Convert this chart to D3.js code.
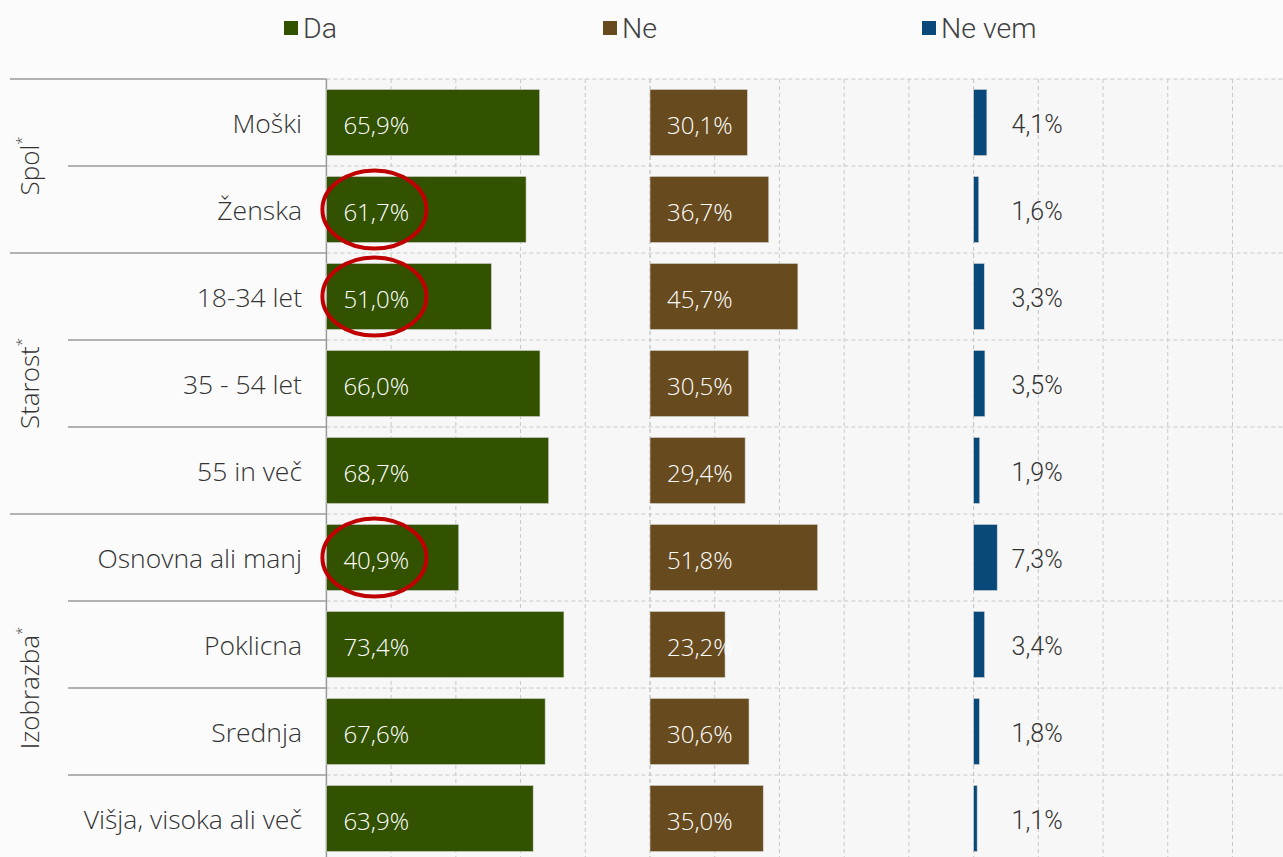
<!DOCTYPE html>
<html><head><meta charset="utf-8">
<script src="https://cdn.jsdelivr.net/npm/d3@7"></script>
<style>body{margin:0;background:#fbfbfb;overflow:hidden}</style>
</head><body><svg id="c" width="1283" height="857"></svg>
<script>
const categories = ["Moški","Ženska","18-34 let","35 - 54 let","55 in več","Osnovna ali manj","Poklicna","Srednja","Višja, visoka ali več"];
const groupOf = ["Spol","Spol","Starost","Starost","Starost","Izobrazba","Izobrazba","Izobrazba","Izobrazba"];
const seriesNames = ["Da","Ne","Ne vem"];
const da = [65.9, 61.7, 51.0, 66.0, 68.7, 40.9, 73.4, 67.6, 63.9];
const ne = [30.1, 36.7, 45.7, 30.5, 29.4, 51.8, 23.2, 30.6, 35.0];
const neVem = [4.1, 1.6, 3.3, 3.5, 1.9, 7.3, 3.4, 1.8, 1.1];
const seriesColors = ["#325200", "#674b1f", "#08497a"];
const tickValues = [0, 20, 40, 60, 80, 100];
const circled = ["Ženska", "18-34 let", "Osnovna ali manj"];

const values = [da, ne, neVem];
const W = 1283, H = 857;
const svg = d3.select("#c");
const fmt = d3.formatLocale({decimal: ",", thousands: ".", grouping: [3], currency: ["", "€"]}).format(".1f");
const pct = v => fmt(v) + "%";
const mainFont = "'Open Sans', Lato, sans-serif";
const sideFont = "Roboto, 'Liberation Sans', sans-serif";

const plotLeft = 326.4, panelW = 323.6, topY = 79, step = 87;
const y = d3.scaleBand().domain(categories).range([topY, topY + step * categories.length]).paddingInner(0.24).paddingOuter(0.12);
const panel = d3.scaleBand().domain(seriesNames).range([plotLeft, plotLeft + panelW * 3]).padding(0);
const xv = d3.scaleLinear().domain([0, 100]).range([0, panelW]);
const rowTop = i => y.range()[0] + i * y.step();

// backgrounds
svg.append("rect").attr("x", 0).attr("y", 0).attr("width", W).attr("height", H).attr("fill", "#fbfbfb");
svg.append("rect").attr("x", plotLeft).attr("y", topY).attr("width", W - plotLeft).attr("height", H - topY).attr("fill", "#f7f7f7");

// vertical grid
const grid = svg.append("g").attr("stroke", "#c8c8c8").attr("stroke-dasharray", "4,3").attr("stroke-width", 1);
seriesNames.forEach(s => {
  tickValues.forEach(t => {
    const gx = panel(s) + xv(t);
    if (gx <= plotLeft + 1 || gx > W) return;
    grid.append("line").attr("x1", gx).attr("x2", gx).attr("y1", topY).attr("y2", H);
  });
});
// horizontal grid
for (let i = 0; i <= categories.length; i++) {
  grid.append("line").attr("x1", plotLeft).attr("x2", W).attr("y1", rowTop(i)).attr("y2", rowTop(i));
}

// label table lines
const tbl = svg.append("g").attr("stroke", "#9a9a9a").attr("stroke-width", 1.5);
for (let i = 0; i <= categories.length; i++) {
  const isGroupStart = i === 0 || i === categories.length || groupOf[i] !== groupOf[i - 1];
  tbl.append("line").attr("x1", isGroupStart ? 10 : 68).attr("x2", plotLeft).attr("y1", rowTop(i)).attr("y2", rowTop(i));
}
tbl.append("line").attr("x1", plotLeft).attr("x2", plotLeft).attr("y1", topY).attr("y2", H);

// bars
seriesNames.forEach((s, si) => {
  const g = svg.append("g");
  g.selectAll("rect").data(categories).join("rect")
    .attr("x", panel(s))
    .attr("y", c => y(c))
    .attr("width", (c, i) => xv(values[si][i]))
    .attr("height", y.bandwidth())
    .attr("fill", seriesColors[si])
    .attr("stroke", "#d8d8d8").attr("stroke-width", 0.6);
  const inside = si < 2;
  g.selectAll("text").data(categories).join("text")
    .attr("x", panel(s) + (inside ? 17 : 38))
    .attr("y", c => y(c) + y.bandwidth() / 2 + 2)
    .attr("dominant-baseline", "central")
    .attr("font-family", inside ? mainFont : sideFont)
    .attr("font-weight", 300)
    .attr("font-size", inside ? 24 : 25)
    .attr("fill", inside ? "#ffffff" : "#333")
    .text((c, i) => pct(values[si][i]));
});

// category labels
svg.append("g").selectAll("text").data(categories).join("text")
  .attr("x", 302)
  .attr("y", c => y(c) + y.bandwidth() / 2)
  .attr("text-anchor", "end")
  .attr("dominant-baseline", "central")
  .attr("font-family", mainFont)
  .attr("font-weight", 300)
  .attr("font-size", 26.5)
  .attr("fill", "#333")
  .text(c => c);

// group labels
const groupNames = Array.from(new Set(groupOf));
groupNames.forEach(gn => {
  const idx = groupOf.map((g, i) => g === gn ? i : -1).filter(i => i >= 0);
  const y0 = rowTop(idx[0]), y1 = rowTop(idx[idx.length - 1] + 1);
  const cy = (y0 + y1) / 2;
  const t = svg.append("text")
    .attr("transform", `translate(39,${cy}) rotate(-90)`)
    .attr("text-anchor", "middle")
    .attr("font-family", mainFont)
    .attr("font-weight", 300)
    .attr("font-size", 26)
    .attr("fill", "#333");
  t.append("tspan").text(gn);
  t.append("tspan").attr("font-size", 15).attr("dy", -12).text("*");
});

// circled annotations
svg.append("g").selectAll("ellipse").data(circled).join("ellipse")
  .attr("cx", panel("Da") + 48)
  .attr("cy", c => y(c) + y.bandwidth() / 2)
  .attr("rx", 52).attr("ry", 39)
  .attr("fill", "none").attr("stroke", "#c00000").attr("stroke-width", 4);

// legend
const leg = svg.append("g");
seriesNames.forEach((s, i) => {
  const lx = 284 + i * 319;
  leg.append("rect").attr("x", lx).attr("y", 21).attr("width", 14).attr("height", 14).attr("fill", seriesColors[i]);
  leg.append("text").attr("x", lx + 19).attr("y", 28).attr("dominant-baseline", "central")
    .attr("font-family", sideFont).attr("font-weight", 300)
    .attr("font-size", 28.5).attr("fill", "#404040").text(s);
});
</script></body></html>
